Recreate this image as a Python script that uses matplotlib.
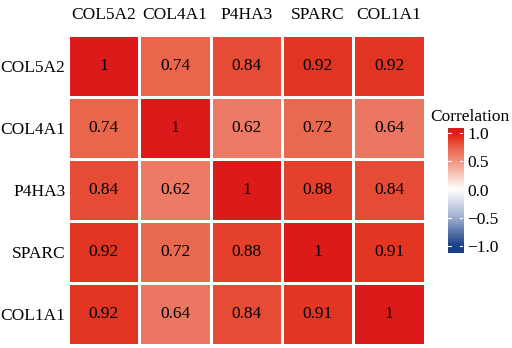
#!/usr/bin/env python3
"""
Heatmap de correlacao entre genes (COL5A2, COL4A1, P4HA3, SPARC, COL1A1).
Gera out.png com a barra de cor "Correlation" a direita.
"""
import numpy as np
import matplotlib
matplotlib.use("Agg")
import matplotlib.pyplot as plt
from matplotlib.colors import LinearSegmentedColormap

genes = ["COL5A2", "COL4A1", "P4HA3", "SPARC", "COL1A1"]

# matriz de correlacao (linha por linha, de cima para baixo)
row_col5a2 = [1.00, 0.74, 0.84, 0.92, 0.92]
row_col4a1 = [0.74, 1.00, 0.62, 0.72, 0.64]
row_p4ha3 = [0.84, 0.62, 1.00, 0.88, 0.84]
row_sparc = [0.92, 0.72, 0.88, 1.00, 0.91]
row_col1a1 = [0.92, 0.64, 0.84, 0.91, 1.00]

cbar_ticks = [-1.0, -0.5, 0.0, 0.5, 1.0]


def fmt(v):
    return "1" if v == 1 else f"{v:.2f}"


def main():
    plt.rcParams["font.family"] = ["Liberation Serif", "DejaVu Serif"]
    plt.rcParams["font.size"] = 12.5

    corr = np.array([row_col5a2, row_col4a1, row_p4ha3, row_sparc, row_col1a1])

    # azul - branco - vermelho (parecido com gradient2 do ggplot)
    ancoras = [
        (0.00, (0.10, 0.25, 0.53)),
        (0.25, (0.62, 0.68, 0.82)),
        (0.50, (1.00, 1.00, 1.00)),
        (0.65, (0.97, 0.76, 0.70)),
        (0.81, (0.925, 0.480, 0.400)),
        (0.87, (0.914, 0.400, 0.300)),
        (0.92, (0.902, 0.300, 0.210)),
        (0.96, (0.886, 0.204, 0.133)),
        (1.00, (0.867, 0.102, 0.102)),
    ]
    cmap = LinearSegmentedColormap.from_list("corr", ancoras)

    fig = plt.figure(figsize=(5.12, 3.48), dpi=100)
    ax = fig.add_axes([0.1328, 0.0086, 0.697, 0.8908])

    n = len(genes)
    ax.pcolormesh(np.arange(n + 1), np.arange(n + 1), corr, cmap=cmap,
                  vmin=-1, vmax=1, edgecolors="white", linewidth=0.9)
    ax.set_xlim(0, n)
    ax.set_ylim(n, 0)

    for i in range(n):
        for j in range(n):
            ax.text(j + 0.5, i + 0.5, fmt(corr[i, j]), ha="center",
                    va="center", color="black")

    ax.xaxis.tick_top()
    ax.set_xticks(np.arange(n) + 0.5)
    ax.set_xticklabels(genes)
    ax.set_yticks(np.arange(n) + 0.5)
    ax.set_yticklabels(genes)
    ax.tick_params(axis="x", length=0, pad=9)
    ax.tick_params(axis="y", length=0, pad=2)
    for s in ax.spines.values():
        s.set_visible(False)

    # ---- barra de cor ----
    cax = fig.add_axes([0.875, 0.273, 0.0293, 0.359])
    lo, hi = -1.12, 1.09
    grad = np.linspace(lo, hi, 256).reshape(-1, 1)
    cax.imshow(grad, cmap=cmap, vmin=-1, vmax=1, aspect="auto",
               origin="lower", extent=[0, 1, lo, hi])
    cax.set_xlim(0, 1)
    cax.set_ylim(lo, hi)
    cax.set_xticks([])
    cax.yaxis.tick_right()
    cax.set_yticks(cbar_ticks)
    cax.set_yticklabels([f"{t:.1f}".replace("-", "\u2212") for t in cbar_ticks])
    cax.tick_params(axis="y", length=0, pad=3)
    for t in cbar_ticks:
        cax.plot([0, 0.2], [t, t], color="white", lw=0.8)
        cax.plot([0.8, 1], [t, t], color="white", lw=0.8)
    for s in cax.spines.values():
        s.set_visible(False)
    fig.text(0.840, 0.664, "Correlation", ha="left", va="center")

    fig.savefig("out.png", dpi=100)


if __name__ == "__main__":
    main()
